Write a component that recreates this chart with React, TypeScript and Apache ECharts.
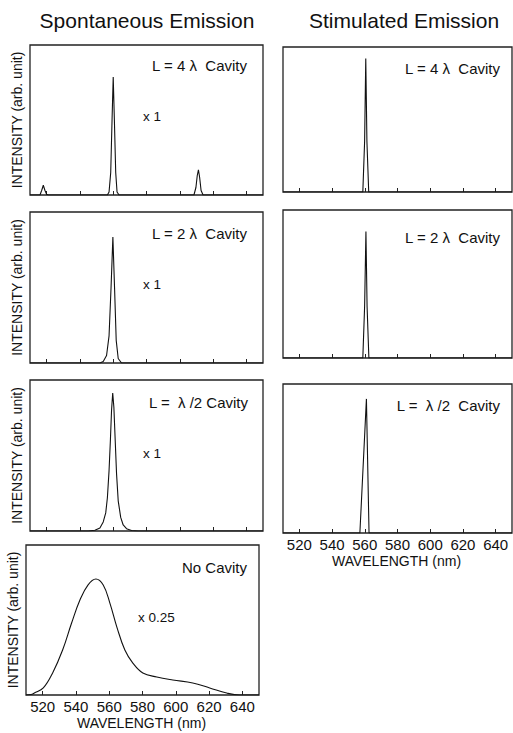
import React, { useEffect, useRef } from "react";
import * as echarts from "echarts";

// ---- data (wavelength nm, relative intensity 0..1 of panel height) ----
const tickValues = [520, 540, 560, 580, 600, 620, 640];

const spont4L: number[][] = [
  [510, 0], [516, 0], [517, 0.03], [518, 0.065], [519, 0.03], [520, 0.005], [521, 0],
  [556.5, 0], [557.5, 0.02], [558.5, 0.15], [559.3, 0.5], [560, 0.787], [560.7, 0.5],
  [561.5, 0.15], [562.3, 0.02], [563.5, 0], [608.5, 0], [609.7, 0.05], [610.5, 0.13],
  [611.2, 0.167], [611.9, 0.12], [612.8, 0.03], [614, 0], [650, 0],
];
const spont2L: number[][] = [
  [510, 0], [552, 0], [554, 0.01], [556, 0.05], [557.5, 0.18], [558.7, 0.5],
  [559.8, 0.834], [560.8, 0.5], [561.8, 0.15], [563, 0.03], [565, 0], [650, 0],
];
const spontHalfL: number[][] = [
  [510, 0], [545, 0], [549, 0.005], [552, 0.02], [554, 0.06], [555.5, 0.12],
  [556.5, 0.22], [557.5, 0.4], [558.3, 0.6], [559, 0.8], [559.7, 0.914], [560.4, 0.82],
  [561.2, 0.6], [562, 0.38], [563, 0.2], [564.5, 0.09], [566, 0.04], [568, 0.015],
  [571, 0.003], [575, 0], [650, 0],
];
const spontNoCavity: number[][] = [
  [510, 0], [513, 0.003], [515, 0.013], [520.4, 0.047], [526, 0.147], [532, 0.3],
  [537.4, 0.48], [542.4, 0.633], [547.2, 0.733], [552, 0.773], [556.4, 0.733],
  [560.4, 0.613], [564.6, 0.453], [569.4, 0.3], [574.2, 0.213], [580.2, 0.147],
  [588.6, 0.12], [598.2, 0.1], [610.2, 0.08], [620.4, 0.047], [630.6, 0.013],
  [638.4, 0], [650, 0],
];
const stim4L: number[][] = [
  [510, 0], [558.8, 0], [559.9, 0.35], [560.6, 0.92], [561.3, 0.35], [562.4, 0], [650, 0],
];
const stim2L: number[][] = [
  [510, 0], [558.8, 0], [559.9, 0.35], [560.7, 0.855], [561.4, 0.35], [562.5, 0], [650, 0],
];
const stimHalfL: number[][] = [
  [510, 0], [557, 0], [561, 0.9], [562.6, 0], [650, 0],
];

const headers = ["Spontaneous Emission", "Stimulated Emission"];
const panelLabels = [
  "L = 4 \u03bb  Cavity", "L = 2 \u03bb  Cavity", "L =  \u03bb /2 Cavity", "No Cavity",
  "L = 4 \u03bb  Cavity", "L = 2 \u03bb  Cavity", "L =  \u03bb /2  Cavity",
];
const scaleLabels = ["x 1", "x 1", "x 1", "x 0.25"];
const yName = "INTENSITY (arb. unit)";
const xName = "WAVELENGTH (nm)";

const FONT = "'Liberation Sans', Arial, Helvetica, sans-serif";

export default function App() {
  const ref = useRef<HTMLDivElement>(null);
  useEffect(() => {
    const chart = echarts.init(ref.current!, null, { renderer: "svg" });

    const panels = [
      { data: spont4L, g: [30, 45, 233, 150], lab: true, tx: 247, ty: 65, sx: 143, sy: 116, s: 0, y: true, x: false, smooth: false },
      { data: spont2L, g: [30, 212, 233, 151], lab: true, tx: 247, ty: 233, sx: 143, sy: 284, s: 1, y: true, x: false, smooth: false },
      { data: spontHalfL, g: [30, 380, 233, 151], lab: true, tx: 248, ty: 402, sx: 143, sy: 453, s: 2, y: true, x: false, smooth: false },
      { data: spontNoCavity, g: [26, 545, 233, 150], lab: true, tx: 247, ty: 567, sx: 138, sy: 617, s: 3, y: true, x: true, smooth: true },
      { data: stim4L, g: [283, 47, 229, 145], lab: true, tx: 500, ty: 68, sx: 0, sy: 0, s: -1, y: false, x: false, smooth: false },
      { data: stim2L, g: [283, 210, 229, 148], lab: true, tx: 500, ty: 237, sx: 0, sy: 0, s: -1, y: false, x: false, smooth: false },
      { data: stimHalfL, g: [283, 384, 229, 149], lab: true, tx: 500, ty: 405, sx: 0, sy: 0, s: -1, y: false, x: true, smooth: false },
    ];

    const grid: any[] = [];
    const xAxis: any[] = [];
    const yAxis: any[] = [];
    const series: any[] = [];
    const graphic: any[] = [];

    graphic.push({
      type: "text", x: 147, y: 20,
      style: { text: headers[0], font: `21px ${FONT}`, fill: "#111", textAlign: "center", textVerticalAlign: "middle" },
    });
    graphic.push({
      type: "text", x: 404, y: 20,
      style: { text: headers[1], font: `21px ${FONT}`, fill: "#111", textAlign: "center", textVerticalAlign: "middle" },
    });

    panels.forEach((p, i) => {
      const [l, t, w, h] = p.g;
      grid.push({ left: l, top: t, width: w, height: h, show: true, borderColor: "#222", borderWidth: 1.3, backgroundColor: "transparent" });
      xAxis.push({
        type: "value", gridIndex: i, min: 510, max: 650,
        axisLine: { show: false },
        splitLine: { show: false },
        axisTick: { show: true, inside: true, length: 4, customValues: tickValues, lineStyle: { color: "#222", width: 1 } },
        axisLabel: { show: p.x, customValues: tickValues, fontSize: 15, fontFamily: FONT, color: "#111", margin: 4 },
      });
      yAxis.push({
        type: "value", gridIndex: i, min: 0, max: 1,
        axisLine: { show: false }, axisTick: { show: false }, axisLabel: { show: false }, splitLine: { show: false },
      });
      series.push({
        type: "line", xAxisIndex: i, yAxisIndex: i, data: p.data, showSymbol: false,
        smooth: p.smooth ? 0.4 : false,
        lineStyle: { color: "#111", width: 1.1 }, silent: true,
      });
      graphic.push({
        type: "text", x: p.tx, y: p.ty,
        style: { text: panelLabels[i], font: `15px ${FONT}`, fill: "#111", textAlign: "right", textVerticalAlign: "middle" },
      });
      if (p.s >= 0) {
        graphic.push({
          type: "text", x: p.sx, y: p.sy,
          style: { text: scaleLabels[p.s], font: `13.5px ${FONT}`, fill: "#111", textAlign: "left", textVerticalAlign: "middle" },
        });
      }
      if (p.y) {
        graphic.push({
          type: "text", x: l - 13, y: t + h / 2, rotation: Math.PI / 2,
          style: { text: yName, font: `14px ${FONT}`, fill: "#111", textAlign: "center", textVerticalAlign: "middle" },
        });
      }
      if (p.x) {
        graphic.push({
          type: "text", x: l + w / 2 - 1, y: t + h + 28,
          style: { text: xName, font: `14px ${FONT}`, fill: "#111", textAlign: "center", textVerticalAlign: "middle" },
        });
      }
    });

    chart.setOption({
      animation: false,
      backgroundColor: "#fff",
      grid, xAxis, yAxis, series, graphic,
    });
    return () => chart.dispose();
  }, []);
  return (
    <div
      ref={ref}
      style={{ position: "absolute", left: 0, top: 0, width: 513, height: 733, background: "#fff" }}
    />
  );
}
